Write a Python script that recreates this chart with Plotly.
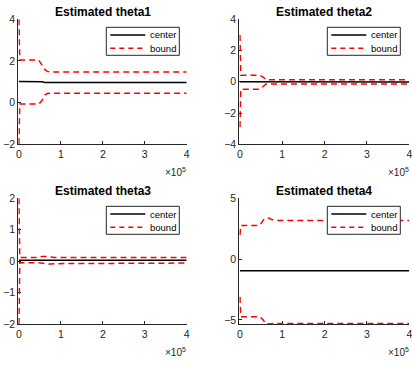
import plotly.graph_objects as go

# ---- data ----
samples = [0, 2000, 47000, 55000, 62000, 68000, 75000, 85000, 400000]

center1 = [1.02, 1.02, 1.02, 1.0, 0.97, 0.97, 0.97, 0.97, 0.97]
upper1 = [4.0, 2.05, 2.05, 1.8, 1.58, 1.5, 1.47, 1.47, 1.47]
lower1 = [-2.0, -0.07, -0.07, 0.1, 0.38, 0.44, 0.45, 0.45, 0.45]

center2 = [0.0, 0.0, 0.0, 0.0, -0.01, -0.01, -0.01, -0.01, -0.01]
upper2 = [3.0, 0.42, 0.42, 0.3, 0.13, 0.13, 0.13, 0.13, 0.13]
lower2 = [-2.9, -0.47, -0.47, -0.3, -0.14, -0.14, -0.14, -0.14, -0.14]

center3 = [0.03, 0.03, 0.03, 0.03, 0.03, 0.03, 0.03, 0.03, 0.03]
upper3 = [2.0, 0.12, 0.12, 0.15, 0.15, 0.14, 0.12, 0.12, 0.12]
lower3 = [-2.0, -0.05, -0.05, -0.07, -0.09, -0.09, -0.09, -0.08, -0.06]

center4 = [-0.96, -0.96, -0.96, -0.92, -0.92, -0.92, -0.95, -0.96, -0.96]
upper4 = [2.0, 2.77, 2.77, 3.2, 3.38, 3.38, 3.25, 3.18, 3.18]
lower4 = [-3.1, -4.73, -4.73, -5.0, -5.35, -5.35, -5.3, -5.28, -5.28]

titles = ["Estimated theta1", "Estimated theta2", "Estimated theta3", "Estimated theta4"]
legend_labels = ["center", "bound"]
x_tickvals = [0, 100000, 200000, 300000, 400000]
x_ticktext = ["0", "1", "2", "3", "4"]
y_ranges = [[-2, 4], [-4, 4], [-2, 2], [-5.33, 5]]
y_ticks = [[-2, 0, 2, 4], [-4, -2, 0, 2, 4], [-2, -1, 0, 1, 2], [-5, 0, 5]]

W, H = 412, 365
FONT = "Liberation Sans, Arial, sans-serif"
AX = "#262626"
RED = "#ff0000"
DASH = "6px,4px"

# pixel boxes (left, right, top, bottom)
boxes = [
    (18.3, 186.7, 19.3, 144.3),
    (239.3, 409.3, 19.3, 144.3),
    (18.3, 186.7, 198.3, 324.0),
    (239.3, 409.3, 198.3, 324.0),
]

centers = [center1, center2, center3, center4]
uppers = [upper1, upper2, upper3, upper4]
lowers = [lower1, lower2, lower3, lower4]


def px(xp):
    return xp / W


def py(yp):
    return 1 - yp / H


fig = go.Figure()
annotations = []
shapes = []
layout = {}
for i in range(4):
    n = "" if i == 0 else str(i + 1)
    xa, ya = "x" + n, "y" + n
    fig.add_trace(go.Scatter(x=samples, y=centers[i], mode="lines", name=legend_labels[0],
                             line=dict(color="black", width=1.5), xaxis=xa, yaxis=ya,
                             showlegend=False))
    fig.add_trace(go.Scatter(x=samples, y=uppers[i], mode="lines", name=legend_labels[1],
                             line=dict(color=RED, width=1.5, dash=DASH),
                             xaxis=xa, yaxis=ya, showlegend=False))
    fig.add_trace(go.Scatter(x=samples, y=lowers[i], mode="lines", name=legend_labels[1],
                             line=dict(color=RED, width=1.5, dash=DASH),
                             xaxis=xa, yaxis=ya, showlegend=False))
    l, r, t, b = boxes[i]
    layout["xaxis" + n] = dict(
        domain=[l / W, r / W], anchor=ya, range=[-1500, 400000],
        tickvals=x_tickvals, ticktext=x_ticktext, ticks="inside", ticklen=3,
        tickcolor=AX, showline=True, linecolor=AX, linewidth=1, showgrid=False,
        zeroline=False, layer="below traces", automargin=False,
        ticklabeloverflow="allow",
        tickfont=dict(family=FONT, size=10.5, color=AX))
    layout["yaxis" + n] = dict(
        domain=[1 - b / H, 1 - t / H], anchor=xa, range=y_ranges[i],
        tickvals=y_ticks[i], ticks="inside", ticklen=3, tickcolor=AX,
        showline=True, linecolor=AX, linewidth=1, showgrid=False, zeroline=False,
        layer="below traces", automargin=False, ticklabeloverflow="allow",
        tickfont=dict(family=FONT, size=10.5, color=AX))
    # legend box (drawn manually to match compact MATLAB legend)
    bx0, bx1, by0, by1 = l + 88, l + 161, t + 8, t + 36
    shapes.append(dict(type="rect", xref="paper", yref="paper",
                       x0=px(bx0), x1=px(bx1), y0=py(by1), y1=py(by0),
                       line=dict(color=AX, width=1), fillcolor="white", layer="above"))
    shapes.append(dict(type="line", xref="paper", yref="paper",
                       x0=px(l + 92), x1=px(l + 127), y0=py(t + 15.7), y1=py(t + 15.7),
                       line=dict(color="black", width=1.5), layer="above"))
    shapes.append(dict(type="line", xref="paper", yref="paper",
                       x0=px(l + 92), x1=px(l + 127), y0=py(t + 29), y1=py(t + 29),
                       line=dict(color=RED, width=1.5, dash="5px,4px"), layer="above"))
    for k, lab in enumerate(legend_labels):
        annotations.append(dict(
            x=px(l + 130), y=py(t + 15.7 + 13.3 * k), xref="paper", yref="paper",
            text=lab, showarrow=False, xanchor="left", yanchor="middle",
            font=dict(family=FONT, size=9.5, color="black")))
    annotations.append(dict(
        x=(l + r) / 2 / W, y=py(t - 7.5), xref="paper", yref="paper",
        text="<b>" + titles[i] + "</b>", showarrow=False, xanchor="center",
        yanchor="middle", font=dict(family=FONT, size=12, color="black")))
    annotations.append(dict(
        x=px(r + 1.5), y=py(b + 28), xref="paper", yref="paper",
        text="×10<sup>5</sup>", showarrow=False, xanchor="right", yanchor="middle",
        font=dict(family=FONT, size=10, color=AX)))

fig.update_layout(width=W, height=H, margin=dict(l=0, r=0, t=0, b=0),
                  paper_bgcolor="white", plot_bgcolor="white", showlegend=False,
                  annotations=annotations, shapes=shapes, **layout)
fig.write_html("out.html", config={"displayModeBar": False},
               post_script="document.body.style.margin='0px';")
